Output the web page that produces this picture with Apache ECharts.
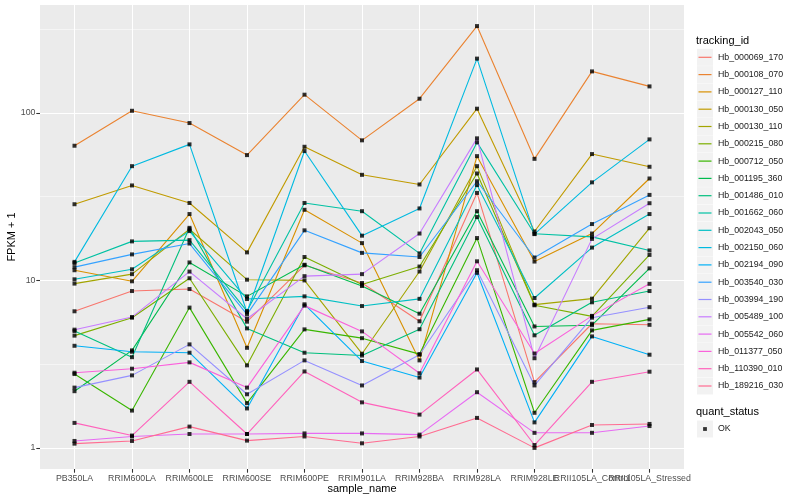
<!DOCTYPE html>
<html><head><meta charset="utf-8">
<script src="https://cdn.jsdelivr.net/npm/echarts@6/dist/echarts.min.js"></script>
<style>html,body{margin:0;padding:0;background:#fff}#c{width:800px;height:500px}</style>
</head><body><div id="c"></div>
<script>
// ---- data ----
const categories = ['PB350LA','RRIM600LA','RRIM600LE','RRIM600SE','RRIM600PE','RRIM901LA','RRIM928BA','RRIM928LA','RRIM928LE','RRII105LA_Control','RRII105LA_Stressed'];
const seriesNames = ['Hb_000069_170','Hb_000108_070','Hb_000127_110','Hb_000130_050','Hb_000130_110','Hb_000215_080','Hb_000712_050','Hb_001195_360','Hb_001486_010','Hb_001662_060','Hb_002043_050','Hb_002150_060','Hb_002194_090','Hb_003540_030','Hb_003994_190','Hb_005489_100','Hb_005542_060','Hb_011377_050','Hb_110390_010','Hb_189216_030'];
const Hb_000069_170 = [6.54, 8.64, 8.88, 5.67, 12.3, 9.65, 5.70, 33.3, 2.47, 5.51, 5.43];
const Hb_000108_070 = [63.7, 103, 87.0, 56.0, 128.5, 68.6, 121.6, 330, 53.2, 177, 144];
const Hb_000127_110 = [11.5, 9.88, 24.9, 3.96, 26.4, 16.7, 3.33, 55.2, 12.96, 19.05, 40.6];
const Hb_000130_050 = [28.5, 36.9, 29.0, 14.7, 62.8, 42.7, 37.4, 106, 19.6, 56.8, 47.7];
const Hb_000130_110 = [9.57, 10.9, 20.2, 10.1, 10.0, 3.65, 11.3, 48.1, 7.17, 7.78, 20.5];
const Hb_000215_080 = [4.68, 5.99, 10.3, 3.11, 13.8, 9.44, 12.1, 43.5, 7.1, 6.10, 14.2];
const Hb_000712_050 = [2.76, 1.67, 6.88, 1.85, 5.10, 4.52, 3.63, 17.9, 1.62, 5.03, 5.85];
const Hb_001195_360 = [2.18, 3.82, 12.8, 8.03, 12.4, 9.26, 6.33, 25.9, 5.31, 5.4, 11.8];
const Hb_001486_010 = [4.98, 3.48, 20.6, 5.17, 3.70, 3.56, 5.11, 23.9, 4.70, 7.40, 8.64];
const Hb_001662_060 = [12.7, 17.1, 17.4, 6.56, 29.0, 25.9, 14.5, 66.7, 19.0, 18.2, 15.1];
const Hb_002043_050 = [10.15, 11.65, 19.7, 7.74, 8.03, 7.03, 7.76, 37.1, 7.85, 15.7, 24.9];
const Hb_002150_060 = [12.9, 48.1, 64.9, 6.45, 59.2, 18.5, 26.9, 211, 18.9, 38.5, 69.5];
const Hb_002194_090 = [4.07, 3.75, 3.70, 1.72, 7.20, 3.30, 2.63, 11.1, 1.42, 4.63, 3.60];
const Hb_003540_030 = [12.0, 14.3, 16.6, 6.27, 19.9, 14.6, 13.8, 39.1, 13.7, 21.7, 32.4];
const Hb_003994_190 = [2.29, 2.71, 4.15, 2.09, 3.33, 2.36, 3.60, 11.5, 2.36, 5.99, 6.92];
const Hb_005489_100 = [5.08, 6.04, 11.29, 5.9, 10.6, 10.9, 19.05, 70.5, 3.43, 17.7, 28.9];
const Hb_005542_060 = [1.10, 1.17, 1.21, 1.21, 1.22, 1.22, 1.20, 2.15, 1.23, 1.23, 1.35];
const Hb_011377_050 = [2.81, 2.97, 3.24, 2.29, 7.07, 4.96, 2.79, 13.0, 3.66, 6.14, 9.54];
const Hb_110390_010 = [1.41, 1.185, 2.48, 1.21, 2.86, 1.87, 1.58, 2.94, 1.04, 2.48, 2.85];
const Hb_189216_030 = [1.06, 1.10, 1.34, 1.105, 1.17, 1.065, 1.17, 1.51, 1.00, 1.37, 1.39];
const yTickLabels = [1, 10, 100];
const yMinorBreaks = [3.1623, 31.623, 316.23];
const statusNames = ['OK'];

// ---- build ----
const seriesValues = [Hb_000069_170,Hb_000108_070,Hb_000127_110,Hb_000130_050,Hb_000130_110,Hb_000215_080,Hb_000712_050,Hb_001195_360,Hb_001486_010,Hb_001662_060,Hb_002043_050,Hb_002150_060,Hb_002194_090,Hb_003540_030,Hb_003994_190,Hb_005489_100,Hb_005542_060,Hb_011377_050,Hb_110390_010,Hb_189216_030];
const palette = ['#F8766D','#EA8331','#D89000','#C09B00','#A3A500','#7CAE00','#39B600','#00BB4E','#00BF7D','#00C1A3','#00BFC4','#00BAE0','#00B0F6','#35A2FF','#9590FF','#C77CFF','#E76BF3','#FA62DB','#FF62BC','#FF6C91'];
const FONT = '"Liberation Sans", Arial, Helvetica, sans-serif';
const yMin = 0.748, yMax = 441;
const PT = {left: 40, top: 5, width: 644, height: 464};
const legTop = 48.8, legStep = 17.3, keyX = 697, keyW = 16, keyH = 17;

const series = [];
series.push({
  type: 'line', xAxisIndex: 0, yAxisIndex: 0, data: [], silent: true, z: 1,
  markLine: {
    silent: true, symbol: 'none', z: 1, animation: false,
    label: {show: false},
    data: yTickLabels.map(v => ({yAxis: v, lineStyle: {color: '#FFFFFF', width: 1.07, type: 'solid'}}))
      .concat(yMinorBreaks.map(v => ({yAxis: v, lineStyle: {color: '#FFFFFF', width: 0.53, type: 'solid'}})))
  }
});
seriesNames.forEach((n, k) => {
  series.push({
    name: n, type: 'line', xAxisIndex: 1, yAxisIndex: 1, data: seriesValues[k],
    color: palette[k], symbol: 'none', showSymbol: false, z: 3,
    lineStyle: {width: 1.1, color: palette[k]}
  });
});
const pts = [];
seriesValues.forEach(arr => arr.forEach((v, i) => pts.push([i, v])));
series.push({
  name: statusNames[0], type: 'scatter', xAxisIndex: 1, yAxisIndex: 1, data: pts,
  symbol: 'rect', symbolSize: 4, itemStyle: {color: '#000000'}, z: 5
});

const lineIcon = 'path://M0,0L0,0M16,17L16,17M1.5,7.9L14.5,7.9L14.5,9.1L1.5,9.1Z';
const dotIcon = 'path://M0,0L0,0M16,17L16,17M6.1,6.6L9.9,6.6L9.9,10.4L6.1,10.4Z';

const graphics = [];
seriesNames.forEach((n, k) => {
  graphics.push({type: 'rect', silent: true, z: 0, shape: {x: keyX, y: legTop + k * legStep, width: keyW, height: keyH}, style: {fill: '#F2F2F2'}});
});
graphics.push({type: 'rect', silent: true, z: 0, shape: {x: keyX, y: 420.5, width: keyW, height: keyH}, style: {fill: '#F2F2F2'}});
graphics.push({type: 'text', x: 12, y: 237, rotation: Math.PI / 2, style: {text: 'FPKM + 1', font: '11px ' + FONT, fill: '#000', textAlign: 'center', textVerticalAlign: 'middle'}});
graphics.push({type: 'text', x: 362, y: 489, style: {text: 'sample_name', font: '11px ' + FONT, fill: '#000', textAlign: 'center', textVerticalAlign: 'middle'}});
graphics.push({type: 'text', x: 696, y: 40.7, style: {text: 'tracking_id', font: '11px ' + FONT, fill: '#000', textAlign: 'left', textVerticalAlign: 'middle'}});
graphics.push({type: 'text', x: 696, y: 412.3, style: {text: 'quant_status', font: '11px ' + FONT, fill: '#000', textAlign: 'left', textVerticalAlign: 'middle'}});

const option = {
  animation: false,
  backgroundColor: '#FFFFFF',
  textStyle: {fontFamily: FONT},
  grid: [
    {left: PT.left, top: PT.top, width: PT.width, height: PT.height, show: true, backgroundColor: '#EBEBEB', borderWidth: 0},
    {left: 74.5, top: PT.top, width: 575, height: PT.height, show: false}
  ],
  xAxis: [
    {gridIndex: 0, type: 'value', min: 0, max: 1, show: false},
    {gridIndex: 1, type: 'category', data: categories, boundaryGap: false,
     axisLine: {show: false},
     axisTick: {show: true, length: 3.7, alignWithLabel: true, lineStyle: {color: '#333333', width: 1.07}},
     axisLabel: {interval: 0, hideOverlap: false, fontSize: 8.8, color: '#4D4D4D', margin: 5, fontFamily: FONT},
     splitLine: {show: true, lineStyle: {color: '#FFFFFF', width: 1.07}}}
  ],
  yAxis: [
    {gridIndex: 0, type: 'log', logBase: 10, min: yMin, max: yMax,
     axisLine: {show: false},
     axisTick: {show: true, length: 3.7, customValues: yTickLabels, lineStyle: {color: '#333333', width: 1.07}},
     axisLabel: {customValues: yTickLabels, fontSize: 8.8, color: '#4D4D4D', margin: 4.5, fontFamily: FONT, formatter: v => String(Math.round(v))},
     splitLine: {show: false}, minorSplitLine: {show: false}},
    {gridIndex: 1, type: 'log', logBase: 10, min: yMin, max: yMax, show: false, splitLine: {show: false}}
  ],
  legend: [
    {data: seriesNames, orient: 'vertical', left: keyX, top: legTop, padding: 0,
     itemWidth: keyW, itemHeight: keyH, itemGap: legStep - keyH, icon: lineIcon,
     itemStyle: {borderWidth: 0},
     selectedMode: false, textStyle: {fontSize: 8.8, color: '#1A1A1A', fontFamily: FONT}},
    {data: statusNames, orient: 'vertical', left: keyX, top: 420.5, padding: 0,
     itemWidth: keyW, itemHeight: keyH, icon: dotIcon,
     itemStyle: {borderWidth: 0},
     selectedMode: false, textStyle: {fontSize: 8.8, color: '#1A1A1A', fontFamily: FONT}}
  ],
  graphic: graphics,
  series: series
};
const chart = echarts.init(document.getElementById('c'), null, {renderer: 'canvas'});
chart.setOption(option);
</script></body></html>
